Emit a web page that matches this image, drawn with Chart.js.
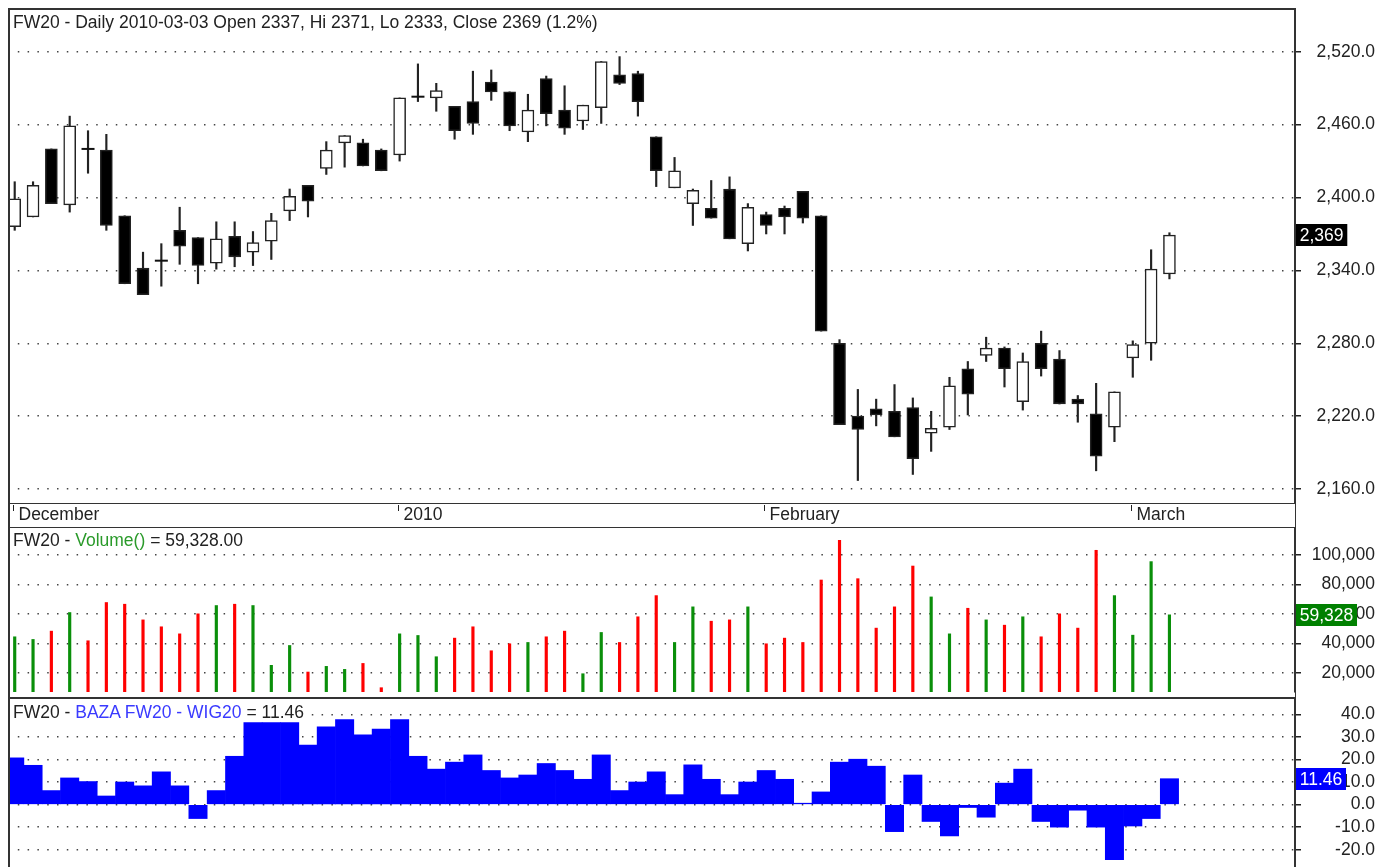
<!DOCTYPE html>
<html>
<head>
<meta charset="utf-8">
<script src="https://cdn.jsdelivr.net/npm/chart.js@4.4.1/dist/chart.umd.min.js"></script>
<style>
  body { margin: 0; background: #fff; font-family: "Liberation Sans", Arial, sans-serif; }
  #wrap { position: relative; width: 1391px; height: 867px; overflow: hidden; }
  .box { position: absolute; left: 8px; width: 1367px; }
  .ln { position: absolute; background: #333; z-index: 3; }
  .ttl { position: absolute; left: 13px; font-size: 17.5px; line-height: 18px; color: #222;
         background: #fff; padding-right: 3px; white-space: nowrap; z-index: 2; }
</style>
</head>
<body>
<div id="wrap">
  <div class="box" style="top:9px;height:518px"><canvas id="price"></canvas></div>
  <div class="box" style="top:527px;height:171px"><canvas id="vol"></canvas></div>
  <div class="box" style="top:699px;height:168px"><canvas id="diff"></canvas></div>

  <div class="ttl" id="t1" style="top:13px"></div>
  <div class="ttl" id="t2" style="top:531px"></div>
  <div class="ttl" id="t3" style="top:703px"></div>

  <div class="ln" style="left:8px;top:8px;width:1.5px;height:859px"></div>
  <div class="ln" style="left:1294.5px;top:8px;width:1.5px;height:859px"></div>
  <div class="ln" style="left:8px;top:8px;width:1288px;height:1.5px"></div>
  <div class="ln" style="left:8px;top:502.5px;width:1288px;height:1.5px"></div>
  <div class="ln" style="left:8px;top:526.5px;width:1288px;height:1.5px"></div>
  <div class="ln" style="left:8px;top:697px;width:1288px;height:2px"></div>
</div>
<script>
// FW20 daily, 2009-12-01 .. 2010-03-03
const openP  = [2376, 2384, 2440, 2394, 2441, 2439, 2385, 2342, 2349, 2373,
                2367, 2346, 2368, 2355, 2364, 2389, 2410, 2424, 2445, 2445,
                2439, 2435, 2482, 2482, 2475, 2479, 2495, 2487, 2454, 2498,
                2472, 2463, 2474, 2501, 2502, 2450, 2408, 2395, 2391, 2407,
                2362, 2386, 2391, 2405, 2385, 2280, 2220, 2226, 2224, 2227,
                2206, 2211, 2259, 2270, 2276, 2232, 2280, 2267, 2234, 2222,
                2211, 2268, 2280, 2337];
const highP  = [2413, 2413, 2440, 2467, 2455, 2452, 2385, 2355, 2362, 2392,
                2367, 2380, 2380, 2372, 2387, 2407, 2410, 2446, 2451, 2448,
                2440, 2482, 2510, 2494, 2475, 2504, 2505, 2487, 2485, 2500,
                2492, 2476, 2512, 2516, 2504, 2450, 2433, 2407, 2414, 2417,
                2395, 2388, 2393, 2405, 2385, 2283, 2242, 2234, 2246, 2235,
                2224, 2252, 2265, 2285, 2277, 2272, 2290, 2274, 2237, 2247,
                2240, 2282, 2357, 2371];
const lowP   = [2373, 2384, 2395, 2388, 2420, 2373, 2329, 2320, 2327, 2345,
                2329, 2341, 2343, 2344, 2349, 2381, 2384, 2419, 2425, 2426,
                2422, 2430, 2479, 2471, 2448, 2452, 2480, 2455, 2446, 2459,
                2452, 2456, 2461, 2493, 2467, 2409, 2408, 2377, 2383, 2366,
                2356, 2370, 2370, 2379, 2290, 2213, 2167, 2212, 2203, 2172,
                2191, 2209, 2221, 2265, 2244, 2225, 2253, 2230, 2215, 2175,
                2199, 2252, 2266, 2333];
const closeP = [2399, 2410, 2395, 2459, 2440, 2377, 2329, 2320, 2348, 2360,
                2344, 2366, 2351, 2363, 2381, 2401, 2397, 2439, 2451, 2426,
                2422, 2482, 2483, 2488, 2455, 2461, 2487, 2459, 2472, 2469,
                2457, 2476, 2512, 2494, 2479, 2422, 2422, 2406, 2383, 2366,
                2392, 2377, 2384, 2383, 2290, 2213, 2209, 2221, 2203, 2185,
                2210, 2245, 2238, 2276, 2259, 2265, 2259, 2230, 2230, 2187,
                2240, 2279, 2341, 2369];
const volume = [44400, 42600, 48250, 60900, 41700, 67700, 66550, 55900, 51200, 46400,
                60000, 65650, 66550, 65650, 25000, 38500, 20450, 24300, 22250, 26300,
                9800, 46400, 45300, 30850, 43500, 51200, 34900, 39650, 40550, 44400,
                48250, 19300, 47350, 40550, 58000, 72400, 40550, 64750, 55000, 55900,
                64750, 39650, 43500, 40550, 83000, 110000, 83900, 50300, 64750, 92500,
                71500, 46400, 63800, 55900, 52300, 58000, 44400, 60000, 50300, 103200,
                72400, 45500, 95500, 59328];
// BAZA FW20 - WIG20
const baza   = [20.7, 17.4, 6.2, 11.8, 10.2, 3.8, 10.0, 8.3, 14.5, 8.3,
                -6.2, 6.2, 21.4, 36.3, 36.3, 36.3, 26.4, 34.4, 37.7, 30.9,
                33.4, 37.7, 21.4, 15.7, 18.8, 22.0, 15.1, 11.8, 13.1, 18.2,
                15.1, 11.2, 22.0, 6.2, 10.0, 14.5, 4.4, 17.6, 11.2, 4.4,
                10.0, 15.1, 11.2, 0.6, 5.6, 18.8, 20.1, 17.0, -12.0, 13.1,
                -7.5, -13.9, -1.3, -5.6, 9.5, 15.7, -7.5, -10.0, -2.5, -10.0,
                -24.4, -9.5, -6.2, 11.46];
const monthLabels = ['December', '2010', 'February', 'March'];
const monthStart  = [0, 21, 41, 61];

const FONT = '17.5px "Liberation Sans", Arial, sans-serif';
Chart.defaults.font.family = '"Liberation Sans", Arial, sans-serif';
Chart.defaults.font.size = 17.5;
Chart.defaults.color = '#222';
Chart.defaults.animation = false;

const last = closeP.length - 1;
const pct = ((closeP[last] - closeP[last - 1]) / closeP[last - 1] * 100).toFixed(1);
document.getElementById('t1').textContent =
  `FW20 - Daily 2010-03-03 Open ${openP[last]}, Hi ${highP[last]}, Lo ${lowP[last]}, Close ${closeP[last]} (${pct}%)`;
document.getElementById('t2').innerHTML =
  `FW20 - <span style="color:#2a9a2a">Volume()</span> = ${volume[last].toLocaleString('en-US', {minimumFractionDigits: 2})}`;
document.getElementById('t3').innerHTML =
  `FW20 - <span style="color:#3a3aff">BAZA FW20 - WIG20</span> = ${baza[last].toFixed(2)}`;

const fmtPrice = v => v.toLocaleString('en-US', {minimumFractionDigits: 1, maximumFractionDigits: 1});
const fmtVol = v => v.toLocaleString('en-US');
const fmtDiff = v => v.toFixed(1);

const idx = closeP.map((_, i) => i);
const isUp = idx.map(i => closeP[i] >= openP[i]);
const isDoji = idx.map(i => Math.abs(closeP[i] - openP[i]) <= 1);

const xAxis = () => ({ type: 'linear', min: -0.366, max: 69.85, offset: false, display: false,
                       grid: { offset: false } });

// labels right-aligned against the canvas edge (crossAlign 'far')
function yAxis(min, max, step, fmt) {
  return {
    position: 'right', min, max, bounds: 'data',
    ticks: { callback: fmt, crossAlign: 'far', color: '#222' },
    afterBuildTicks(s) {
      const t = [];
      for (let v = Math.ceil(min / step) * step; v <= max; v += step) t.push({ value: v });
      s.ticks = t;
    },
    grid: { color: '#444', lineWidth: 1.5, tickLength: 6, tickColor: '#222', tickWidth: 1.5 },
    border: { display: true, color: '#333', width: 1.5, dash: [1.5, 8.3] },
    afterFit(s) { s.width = 80; s.paddingTop = 0; s.paddingBottom = 0; }
  };
}

const valueBox = {
  id: 'valueBox',
  afterDraw(chart, args, o) {
    const ctx = chart.ctx;
    const y = Math.round(chart.scales.y.getPixelForValue(o.value));
    ctx.save();
    ctx.font = FONT;
    const w = ctx.measureText(o.text).width + 7.5;
    const x = chart.chartArea.right + 1;
    ctx.fillStyle = o.color;
    ctx.fillRect(x, y - 11, w, 22);
    ctx.fillStyle = '#fff';
    ctx.textBaseline = 'middle';
    ctx.fillText(o.text, x + 3.75, y + 1);
    ctx.restore();
  }
};

const dateStrip = {
  id: 'dateStrip',
  afterDraw(chart) {
    const ctx = chart.ctx;
    const xs = chart.scales.x;
    const b = chart.chartArea.bottom;
    ctx.save();
    ctx.font = FONT;
    ctx.strokeStyle = '#222';
    ctx.lineWidth = 1;
    ctx.fillStyle = '#222';
    ctx.textBaseline = 'middle';
    monthStart.forEach((m, k) => {
      const px = Math.round(xs.getPixelForValue(m)) - 1.5;
      ctx.beginPath();
      ctx.moveTo(px, b + 2);
      ctx.lineTo(px, b + 8);
      ctx.stroke();
      ctx.fillText(monthLabels[k], px + 5, b + 12);
    });
    ctx.restore();
  }
};

new Chart(document.getElementById('price'), {
  type: 'bar',
  data: {
    datasets: [
      {
        label: 'body',
        order: 0,
        grouped: false,
        data: idx.map(i => ({ x: i, y: isDoji[i] ? null : [openP[i], closeP[i]] })),
        backgroundColor: idx.map(i => isUp[i] ? '#fff' : '#000'),
        borderColor: '#222',
        borderWidth: 1.5,
        borderSkipped: false,
        barThickness: 12
      },
      {
        label: 'doji',
        type: 'line',
        order: 1,
        showLine: false,
        data: idx.filter(i => isDoji[i]).map(i => ({ x: i, y: closeP[i] })),
        pointStyle: 'line',
        pointRadius: 6.5,
        pointBorderWidth: 2,
        pointBorderColor: '#111'
      },
      {
        label: 'wick',
        order: 2,
        grouped: false,
        data: idx.map(i => ({ x: i, y: [lowP[i], highP[i]] })),
        backgroundColor: '#222',
        borderWidth: 0,
        barThickness: 1.5
      }
    ]
  },
  options: {
    responsive: true,
    maintainAspectRatio: false,
    layout: { autoPadding: false, padding: { bottom: 24 } },
    plugins: {
      legend: { display: false },
      tooltip: { enabled: false },
      valueBox: { value: closeP[last], text: closeP[last].toLocaleString('en-US'), color: '#000' }
    },
    scales: {
      x: xAxis(),
      y: yAxis(2148.5, 2555.2, 60, fmtPrice)
    }
  },
  plugins: [valueBox, dateStrip]
});

new Chart(document.getElementById('vol'), {
  type: 'bar',
  data: {
    datasets: [{
      label: 'Volume',
      data: idx.map(i => ({ x: i, y: volume[i] })),
      backgroundColor: idx.map(i => isUp[i] ? '#0a8f0a' : '#ff0000'),
      borderWidth: 0,
      barThickness: 2.5
    }]
  },
  options: {
    responsive: true,
    maintainAspectRatio: false,
    layout: { autoPadding: false, padding: { top: 1, bottom: 6 } },
    plugins: {
      legend: { display: false },
      tooltip: { enabled: false },
      valueBox: { value: volume[last], text: volume[last].toLocaleString('en-US'), color: '#008000' }
    },
    scales: {
      x: xAxis(),
      y: yAxis(6880, 118350, 20000, fmtVol)
    }
  },
  plugins: [valueBox]
});

new Chart(document.getElementById('diff'), {
  type: 'bar',
  data: {
    datasets: [{
      label: 'BAZA FW20 - WIG20',
      data: idx.map(i => ({ x: i, y: baza[i] })),
      backgroundColor: '#0000ff',
      borderWidth: 0,
      categoryPercentage: 1,
      barPercentage: 1
    }]
  },
  options: {
    responsive: true,
    maintainAspectRatio: false,
    layout: { autoPadding: false },
    plugins: {
      legend: { display: false },
      tooltip: { enabled: false },
      valueBox: { value: baza[last], text: baza[last].toFixed(2), color: '#0000ff' }
    },
    scales: {
      x: xAxis(),
      y: yAxis(-27.67, 46.78, 10, fmtDiff)
    }
  },
  plugins: [valueBox]
});
</script>
</body>
</html>
